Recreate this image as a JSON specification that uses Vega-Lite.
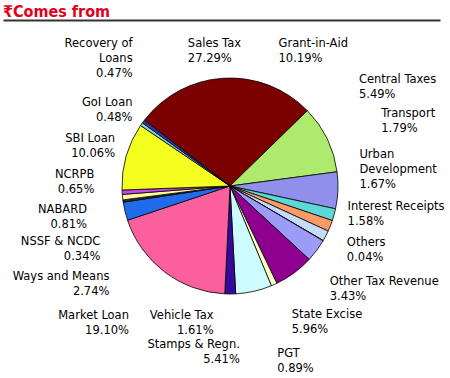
{
  "$schema": "https://vega.github.io/schema/vega-lite/v6.json",
  "width": 436,
  "height": 332,
  "autosize": {"type": "none"},
  "padding": {"left": 12, "top": 20, "right": 2, "bottom": 26},
  "background": "white",
  "title": {"text": "₹Comes from", "anchor": "start", "font": "Liberation Sans Narrow, DejaVu Sans Condensed, Liberation Sans", "fontSize": 16, "fontWeight": "bold", "color": "#E2001A", "dx": 0, "dy": 17, "offset": 4, "baseline": "alphabetic"},
  "config": {"view": {"stroke": null}, "text": {"baseline": "middle", "lineBreak": "\n", "lineHeight": 15, "font": "DejaVu Sans", "fontSize": 11.5, "fill": "#000000", "radius": 125}},
  "data": {"values": [
    {"k": 1, "name": "Sales Tax", "pct": 27.29, "label": "Sales Tax\n27.29%"},
    {"k": 2, "name": "Grant-in-Aid", "pct": 10.19, "label": "Grant-in-Aid\n10.19%"},
    {"k": 3, "name": "Central Taxes", "pct": 5.49, "label": "Central Taxes\n5.49%"},
    {"k": 4, "name": "Transport", "pct": 1.79, "label": "Transport\n1.79%"},
    {"k": 5, "name": "Urban Development", "pct": 1.67, "label": "Urban\nDevelopment\n1.67%"},
    {"k": 6, "name": "Interest Receipts", "pct": 1.58, "label": "Interest Receipts\n1.58%"},
    {"k": 7, "name": "Others", "pct": 0.04, "label": "Others\n0.04%"},
    {"k": 8, "name": "Other Tax Revenue", "pct": 3.43, "label": "Other Tax Revenue\n3.43%"},
    {"k": 9, "name": "State Excise", "pct": 5.96, "label": "State Excise\n5.96%"},
    {"k": 10, "name": "PGT", "pct": 0.89, "label": "PGT\n0.89%"},
    {"k": 11, "name": "Stamps & Regn.", "pct": 5.41, "label": "Stamps & Regn.\n5.41%"},
    {"k": 12, "name": "Vehicle Tax", "pct": 1.61, "label": "Vehicle Tax\n1.61%"},
    {"k": 13, "name": "Market Loan", "pct": 19.10, "label": "Market Loan\n19.10%"},
    {"k": 14, "name": "Ways and Means", "pct": 2.74, "label": "Ways and Means\n2.74%"},
    {"k": 15, "name": "NSSF & NCDC", "pct": 0.34, "label": "NSSF & NCDC\n0.34%"},
    {"k": 16, "name": "NABARD", "pct": 0.81, "label": "NABARD\n0.81%"},
    {"k": 17, "name": "NCRPB", "pct": 0.65, "label": "NCRPB\n0.65%"},
    {"k": 18, "name": "SBI Loan", "pct": 10.06, "label": "SBI Loan\n10.06%"},
    {"k": 19, "name": "GoI Loan", "pct": 0.48, "label": "GoI Loan\n0.48%"},
    {"k": 20, "name": "Recovery of Loans", "pct": 0.47, "label": "Recovery of\nLoans\n0.47%"}
  ]},
  "transform": [{"stack": "pct", "groupby": [], "sort": [{"field": "k", "order": "ascending"}], "as": ["s0", "s1"]}],
  "layer": [
    {
      "mark": {"type": "rule", "opacity": 0},
      "encoding": {
        "x": {"datum": 0, "type": "quantitative", "scale": {"domain": [0, 1], "range": [-9, 428]},
          "axis": {"orient": "top", "domain": true, "domainColor": "#333333", "domainWidth": 2, "ticks": false, "labels": false, "grid": false, "title": null}}
      }
    },
    {
      "mark": {"type": "arc", "radius": 108, "stroke": "#000000", "strokeWidth": 0.8},
      "encoding": {
        "theta": {"field": "s0", "type": "quantitative", "stack": null, "scale": {"domain": [0, 100], "range": [-0.916, 5.367]}},
        "theta2": {"field": "s1"},
        "color": {"field": "name", "type": "nominal", "legend": null,
          "scale": {
            "domain": ["Sales Tax", "Grant-in-Aid", "Central Taxes", "Transport", "Urban Development", "Interest Receipts", "Others", "Other Tax Revenue", "State Excise", "PGT", "Stamps & Regn.", "Vehicle Tax", "Market Loan", "Ways and Means", "NSSF & NCDC", "NABARD", "NCRPB", "SBI Loan", "GoI Loan", "Recovery of Loans"],
            "range": ["#7B0000", "#ADEA6E", "#9090EC", "#5CD8D8", "#FF9966", "#C4DCF8", "#E0E0FF", "#9C9CF8", "#900090", "#FFFFC4", "#CCFCFF", "#340A9C", "#FC5F9E", "#1F6BEB", "#303030", "#FFFF99", "#CC44EE", "#F4FF20", "#7FD6D6", "#3434B0"]
          }}
      }
    },
    {"transform": [{"filter": "datum.name === 'Sales Tax'"}], "mark": {"type": "text", "align": "left", "dx": 57, "dy": -66},
     "encoding": {"theta": {"field": "s0", "type": "quantitative", "stack": null}, "text": {"field": "label"}}},
    {"transform": [{"filter": "datum.name === 'Grant-in-Aid'"}], "mark": {"type": "text", "align": "left", "dx": -41, "dy": -55},
     "encoding": {"theta": {"field": "s0", "type": "quantitative", "stack": null}, "text": {"field": "label"}}},
    {"transform": [{"filter": "datum.name === 'Central Taxes'"}], "mark": {"type": "text", "align": "left", "dx": 5, "dy": -90},
     "encoding": {"theta": {"field": "s0", "type": "quantitative", "stack": null}, "text": {"field": "label"}}},
    {"transform": [{"filter": "datum.name === 'Transport'"}], "mark": {"type": "text", "align": "left", "dx": 29, "dy": -98},
     "encoding": {"theta": {"field": "s0", "type": "quantitative", "stack": null}, "text": {"field": "label"}}},
    {"transform": [{"filter": "datum.name === 'Urban Development'"}], "mark": {"type": "text", "align": "left", "dx": 11, "dy": -71},
     "encoding": {"theta": {"field": "s0", "type": "quantitative", "stack": null}, "text": {"field": "label"}}},
    {"transform": [{"filter": "datum.name === 'Interest Receipts'"}], "mark": {"type": "text", "align": "left", "dx": 4, "dy": -31},
     "encoding": {"theta": {"field": "s0", "type": "quantitative", "stack": null}, "text": {"field": "label"}}},
    {"transform": [{"filter": "datum.name === 'Others'"}], "mark": {"type": "text", "align": "left", "dx": 9, "dy": -6},
     "encoding": {"theta": {"field": "s0", "type": "quantitative", "stack": null}, "text": {"field": "label"}}},
    {"transform": [{"filter": "datum.name === 'Other Tax Revenue'"}], "mark": {"type": "text", "align": "left", "dx": -8, "dy": 33},
     "encoding": {"theta": {"field": "s0", "type": "quantitative", "stack": null}, "text": {"field": "label"}}},
    {"transform": [{"filter": "datum.name === 'State Excise'"}], "mark": {"type": "text", "align": "left", "dx": -30, "dy": 44},
     "encoding": {"theta": {"field": "s0", "type": "quantitative", "stack": null}, "text": {"field": "label"}}},
    {"transform": [{"filter": "datum.name === 'PGT'"}], "mark": {"type": "text", "align": "left", "dx": -7, "dy": 55},
     "encoding": {"theta": {"field": "s0", "type": "quantitative", "stack": null}, "text": {"field": "label"}}},
    {"transform": [{"filter": "datum.name === 'Stamps & Regn.'"}], "mark": {"type": "text", "align": "right", "dx": -38, "dy": 44},
     "encoding": {"theta": {"field": "s0", "type": "quantitative", "stack": null}, "text": {"field": "label"}}},
    {"transform": [{"filter": "datum.name === 'Vehicle Tax'"}], "mark": {"type": "text", "align": "right", "dx": -23, "dy": 5},
     "encoding": {"theta": {"field": "s0", "type": "quantitative", "stack": null}, "text": {"field": "label"}}},
    {"transform": [{"filter": "datum.name === 'Market Loan'"}], "mark": {"type": "text", "align": "right", "dx": -95, "dy": 5},
     "encoding": {"theta": {"field": "s0", "type": "quantitative", "stack": null}, "text": {"field": "label"}}},
    {"transform": [{"filter": "datum.name === 'Ways and Means'"}], "mark": {"type": "text", "align": "right", "dx": -2, "dy": 51},
     "encoding": {"theta": {"field": "s0", "type": "quantitative", "stack": null}, "text": {"field": "label"}}},
    {"transform": [{"filter": "datum.name === 'NSSF & NCDC'"}], "mark": {"type": "text", "align": "right", "dx": -6, "dy": 37},
     "encoding": {"theta": {"field": "s0", "type": "quantitative", "stack": null}, "text": {"field": "label"}}},
    {"transform": [{"filter": "datum.name === 'NABARD'"}], "mark": {"type": "text", "align": "right", "dx": -19, "dy": 8},
     "encoding": {"theta": {"field": "s0", "type": "quantitative", "stack": null}, "text": {"field": "label"}}},
    {"transform": [{"filter": "datum.name === 'NCRPB'"}], "mark": {"type": "text", "align": "right", "dx": -11, "dy": -21},
     "encoding": {"theta": {"field": "s0", "type": "quantitative", "stack": null}, "text": {"field": "label"}}},
    {"transform": [{"filter": "datum.name === 'SBI Loan'"}], "mark": {"type": "text", "align": "right", "dx": 10, "dy": -52},
     "encoding": {"theta": {"field": "s0", "type": "quantitative", "stack": null}, "text": {"field": "label"}}},
    {"transform": [{"filter": "datum.name === 'GoI Loan'"}], "mark": {"type": "text", "align": "right", "dx": 6, "dy": -13},
     "encoding": {"theta": {"field": "s0", "type": "quantitative", "stack": null}, "text": {"field": "label"}}},
    {"transform": [{"filter": "datum.name === 'Recovery of Loans'"}], "mark": {"type": "text", "align": "right", "dx": 4, "dy": -69},
     "encoding": {"theta": {"field": "s0", "type": "quantitative", "stack": null}, "text": {"field": "label"}}}
  ]
}
